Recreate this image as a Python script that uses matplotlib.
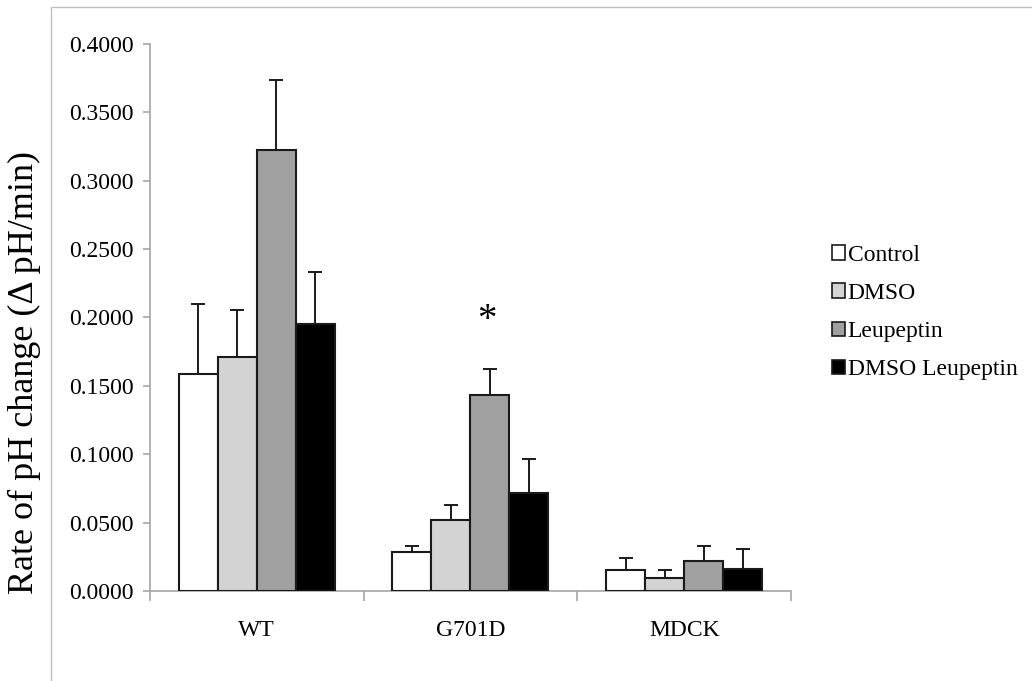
import matplotlib.pyplot as plt
import numpy as np
from matplotlib.patches import Patch, Rectangle

plt.rcParams['font.family'] = ['Liberation Serif', 'DejaVu Serif']

groups = ['WT', 'G701D', 'MDCK']
treatments = ['Control', 'DMSO', 'Leupeptin', 'DMSO Leupeptin']
colors = ['#ffffff', '#d3d3d3', '#a0a0a0', '#000000']

# mean rate per treatment, one value per group (WT, G701D, MDCK)
means = {
    'Control':        [0.1585, 0.0283, 0.0156],
    'DMSO':           [0.1713, 0.0519, 0.0093],
    'Leupeptin':      [0.3227, 0.1433, 0.0219],
    'DMSO Leupeptin': [0.1952, 0.0714, 0.0159],
}
errors = {
    'Control':        [0.0512, 0.0044, 0.0085],
    'DMSO':           [0.0342, 0.0108, 0.0063],
    'Leupeptin':      [0.0510, 0.0193, 0.0110],
    'DMSO Leupeptin': [0.0381, 0.0251, 0.0146],
}
yticks = np.arange(0, 0.41, 0.05)

fig = plt.figure(figsize=(10.32, 6.81), dpi=100)
ax = fig.add_axes([0.1453, 0.1322, 0.7665 - 0.1453, 0.9354 - 0.1322])

# gray frame round the chart area (left and top edges visible)
fig.patches.append(Rectangle((0.0494, -0.5), 2.0, 1.4897, transform=fig.transFigure,
                             fill=False, edgecolor='#bfbfbf', linewidth=1.0))

x = np.arange(len(groups)) + 0.5
w = 0.1825
for i, t in enumerate(treatments):
    pos = x + (i - 1.5) * w
    ax.bar(pos, means[t], width=w, color=colors[i], edgecolor='#1a1a1a',
           linewidth=1.5, zorder=3)
    ax.errorbar(pos, means[t], yerr=[np.zeros(3), errors[t]], fmt='none',
                ecolor='#1a1a1a', elinewidth=1.4, capsize=5, capthick=1.4, zorder=2)

ax.text(x[1] + 0.5 * w - 0.014, 0.198, '*', ha='center', va='center', fontsize=28)

ax.set_xlim(0, 3)
ax.set_ylim(0, 0.4)
ax.set_yticks(yticks)
ax.set_yticklabels([f'{v:.4f}' for v in yticks], fontsize=17)
ax.set_xticks(x)
ax.set_xticklabels(groups, fontsize=17)
ax.set_xticks([0, 1, 2, 3], minor=True)
ax.tick_params(axis='x', which='major', length=0, pad=21)
ax.tick_params(axis='x', which='minor', length=7, color='#a6a6a6', width=1.2)
ax.tick_params(axis='y', length=5, color='#a6a6a6', width=1.2, pad=7)

for s in ['top', 'right']:
    ax.spines[s].set_visible(False)
for s in ['left', 'bottom']:
    ax.spines[s].set_color('#a6a6a6')
    ax.spines[s].set_linewidth(1.2)

ax.set_ylabel('Rate of pH change (Δ pH/min)', fontsize=26)
ax.yaxis.set_label_coords(-0.170, 0.40)

handles = [Patch(facecolor=c, edgecolor='#1a1a1a', linewidth=1.2) for c in colors]
fig.legend(handles, treatments, loc='center left', bbox_to_anchor=(0.806, 0.541),
           frameon=False, fontsize=17, handlelength=0.58, handleheight=0.58,
           handletextpad=0.1, labelspacing=0.73, borderaxespad=0, borderpad=0)

fig.savefig('out.png', dpi=100)
